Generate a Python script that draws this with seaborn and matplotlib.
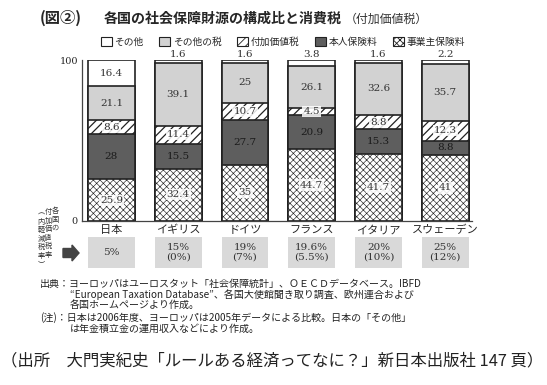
import matplotlib
matplotlib.use("Agg")
import matplotlib.pyplot as plt
import seaborn as sns
import numpy as np
from matplotlib.patches import Patch, FancyArrow

countries = ["日本", "イギリス", "ドイツ", "フランス", "イタリア", "スウェーデン"]
employer = [25.9, 32.4, 35, 44.7, 41.7, 41]
personal = [28, 15.5, 27.7, 20.9, 15.3, 8.8]
vat = [8.6, 11.4, 10.7, 4.5, 8.8, 12.3]
other_tax = [21.1, 39.1, 25, 26.1, 32.6, 35.7]
other = [16.4, 1.6, 1.6, 3.8, 1.6, 2.2]
vat_rates = ["5%", "15%\n(0%)", "19%\n(7%)", "19.6%\n(5.5%)", "20%\n(10%)", "25%\n(12%)"]
series_names = ["その他", "その他の税", "付加価値税", "本人保険料", "事業主保険料"]

sns.set_style("white")
plt.rcParams['font.family'] = ['Noto Sans CJK JP', 'DejaVu Sans']

W, H = 547, 385
fig = plt.figure(figsize=(W / 100, H / 100), dpi=100)
fig.patch.set_facecolor("white")

def fx(px):
    return px / W

def fy(py):
    return 1 - py / H

# main axes
left, right, top, bottom = 82, 472, 60, 221
ax = fig.add_axes([fx(left), fy(bottom), fx(right - left), (bottom - top) / H])

layers = [employer, personal, vat, other_tax, other]  # bottom -> top
styles = [
    dict(color="white", hatch="xxxxx", hlw=0.45),
    dict(color="#5e5e5e", hatch=None, hlw=0.8),
    dict(color="white", hatch="////", hlw=0.9),
    dict(color="#d2d2d2", hatch=None, hlw=0.8),
    dict(color="white", hatch=None, hlw=0.8),
]
cums = np.cumsum(np.array(layers), axis=0)
for k in range(len(layers) - 1, -1, -1):
    st = styles[k]
    plt.rcParams['hatch.linewidth'] = st["hlw"]
    sns.barplot(x=countries, y=cums[k], color=st["color"], saturation=1,
                hatch=st["hatch"], edgecolor="#222222", linewidth=1.2,
                width=0.70, ax=ax, order=countries)

text_colors = ["#333333", "#1a1a1a", "#333333", "#333333", "#333333"]
for k in range(len(layers)):
    for i in range(len(countries)):
        v = layers[k][i]
        lab = f"{v:g}"
        mid = cums[k][i] - v / 2
        if k == 4 and v < 5:
            ax.text(i, 100.8, lab, ha="center", va="bottom", fontsize=7.5,
                    color="#333333", family="DejaVu Serif")
        else:
            bb = None
            if k in (0, 2):
                bb = dict(boxstyle="square,pad=0.1", fc="white", ec="none", alpha=0.85)
            ax.text(i, mid, lab, ha="center", va="center", fontsize=7.5,
                    color=text_colors[k], family="DejaVu Serif", bbox=bb)

ax.set_ylim(0, 100)
ax.set_xlim(-0.44, 5.4)
ax.set_yticks([0, 100])
ax.set_yticklabels(["0", "100"], family="DejaVu Serif", fontsize=7)
ax.set_xticks(range(len(countries)))
ax.set_xticklabels(countries, fontsize=8)
ax.set_xticks(np.arange(0.5, 5.5, 1), minor=True)
ax.tick_params(axis="x", which="major", length=0, pad=3)
ax.tick_params(axis="x", which="minor", length=2, direction="in", color="#444444")
ax.tick_params(axis="y", length=3, direction="in", pad=3)
ax.set_ylabel("")
ax.set_xlabel("")
for s in ["top", "right"]:
    ax.spines[s].set_visible(False)
for s in ["left", "bottom"]:
    ax.spines[s].set_color("#444444")
    ax.spines[s].set_linewidth(0.9)

# VAT rate boxes
ax2 = fig.add_axes([fx(left), fy(268), fx(right - left), (268 - 237) / H])
sns.barplot(x=countries, y=[1] * len(countries), color="#d9d9d9", saturation=1,
            width=0.70, ax=ax2, order=countries, edgecolor="none")
ax2.set_xlim(-0.44, 5.4)
ax2.set_ylim(0, 1)
ax2.axis("off")
for i, r in enumerate(vat_rates):
    ax2.text(i, 0.5, r, ha="center", va="center", fontsize=7.5, color="#333333",
             family="DejaVu Serif", linespacing=1.0)

# arrow
fig.patches.append(FancyArrow(fx(63), fy(253), fx(16), 0, width=9 / H,
                              head_width=16 / H, head_length=fx(7),
                              length_includes_head=True, color="#444444",
                              transform=fig.transFigure, figure=fig))

# vertical label
cols = [("各国の", 55, 207), ("付加価値税率", 48, 208), ("︵内軽減税率︶", 41, 209)]
for s, x, y0 in cols:
    for j, ch in enumerate(s):
        fig.text(fx(x), fy(y0 + j * 8.6), ch, fontsize=5.2, ha="center", va="top",
                 color="#333333")

# titles
fig.text(fx(40), fy(18), "(図②)", fontsize=11, fontweight="bold", va="center", ha="left")
fig.text(fx(104), fy(19), "各国の社会保障財源の構成比と消費税", fontsize=10.1, fontweight="bold",
         va="center", ha="left")
fig.text(fx(345), fy(19), "（付加価値税）", fontsize=8.6, va="center", ha="left", color="#333333")

# legend
handles = [Patch(facecolor=styles[k]["color"], hatch=styles[k]["hatch"],
                 edgecolor="#222222", linewidth=0.8) for k in [4, 3, 2, 1, 0]]
plt.rcParams['hatch.linewidth'] = 0.6
leg = fig.legend(handles, series_names, loc="center", bbox_to_anchor=(fx(283), fy(42)),
                 ncol=5, frameon=False, fontsize=7, handlelength=1.1, handleheight=1.1,
                 handletextpad=0.3, columnspacing=1.6, borderaxespad=0)

# footnotes
notes = [
    (40, 284, "出典：ヨーロッパはユーロスタット「社会保障統計」、ＯＥＣＤデータベース。IBFD"),
    (70, 295, "\u201cEuropean Taxation Database\u201d、各国大使館聞き取り調査、欧州連合および"),
    (70, 306, "各国ホームページより作成。"),
    (40, 318, "(注)：日本は2006年度、ヨーロッパは2005年データによる比較。日本の「その他」"),
    (70, 329, "は年金積立金の運用収入などにより作成。"),
]
for x, y, t in notes:
    fig.text(fx(x), fy(y), t, fontsize=7.2, va="center", ha="left", color="#222222")

fig.text(fx(1), fy(361), "（出所　大門実紀史「ルールある経済ってなに？」新日本出版社 147 頁）",
         fontsize=11.8, va="center", ha="left", color="#222222")

fig.savefig("out.png", dpi=100, facecolor="white")
